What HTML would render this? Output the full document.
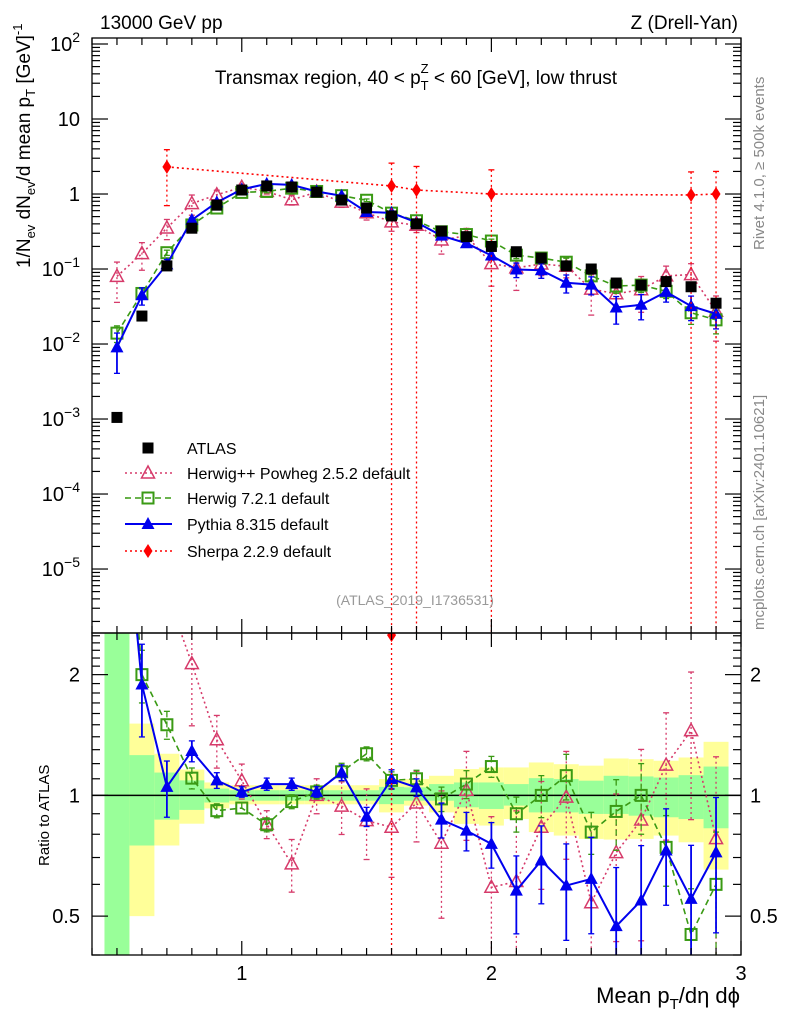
<!DOCTYPE html>
<html><head><meta charset="utf-8">
<style>
html,body{margin:0;background:#fff;overflow:hidden;width:786px;height:1024px;}
svg{display:block;overflow:hidden;}
svg text{font-family:"Liberation Sans",Arial,sans-serif;}
</style></head>
<body>
<svg id="chart" width="786" height="1024" viewBox="0 0 786 1024" xmlns="http://www.w3.org/2000/svg">
<defs>
<clipPath id="clipMain"><rect x="92" y="38" width="649" height="595"/></clipPath>
<clipPath id="clipRatio"><rect x="92" y="633" width="649" height="322"/></clipPath>
</defs>
<rect x="0" y="0" width="786" height="1024" fill="#fff"/>
<text x="100" y="29" font-size="19">13000 GeV pp</text>
<text x="738" y="29" font-size="19" text-anchor="end">Z (Drell-Yan)</text>
<g id="bands" clip-path="url(#clipRatio)"></g>
<g id="ratioMarks" clip-path="url(#clipRatio)"></g>
<g id="mainMarks" clip-path="url(#clipMain)"></g>
<g id="axes"></g>
<text x="416" y="84" font-size="19" text-anchor="middle">Transmax region, 40 &lt; p<tspan font-size="13" dy="6">T</tspan><tspan font-size="13" dx="-8" dy="-17">Z</tspan><tspan dy="11"> &lt; 60 [GeV], low thrust</tspan></text>
<text x="415" y="605" font-size="14" fill="#999" text-anchor="middle">(ATLAS_2019_I1736531)</text>
<text transform="translate(764,250) rotate(-90)" font-size="15" fill="#888">Rivet 4.1.0, ≥ 500k events</text>
<text transform="translate(764,630) rotate(-90)" font-size="15" fill="#888">mcplots.cern.ch [arXiv:2401.10621]</text>
<text transform="translate(30,268) rotate(-90)" font-size="19">1/N<tspan font-size="13" dy="5">ev</tspan><tspan dy="-5"> dN</tspan><tspan font-size="13" dy="5">ev</tspan><tspan dy="-5">/d mean p</tspan><tspan font-size="13" dy="5">T</tspan><tspan dy="-5"> [GeV]</tspan><tspan font-size="13" dy="-8">-1</tspan></text>
<text transform="translate(49,866) rotate(-90)" font-size="15">Ratio to ATLAS</text>
<text x="740" y="1003" font-size="22" text-anchor="end">Mean p<tspan font-size="15" dy="6">T</tspan><tspan dy="-6">/dη dϕ</tspan></text>
<g id="legend"></g>
</svg>
<script>
const xs = [0.5,0.6,0.7,0.8,0.9,1.0,1.1,1.2,1.3,1.4,1.5,1.6,1.7,1.8,1.9,2.0,2.1,2.2,2.3,2.4,2.5,2.6,2.7,2.8,2.9];
const atlas = [0.00105,0.0236,0.11,0.35,0.71,1.13,1.28,1.24,1.06,0.83,0.65,0.51,0.40,0.32,0.27,0.20,0.17,0.14,0.11,0.10,0.065,0.061,0.068,0.058,0.035];
const pythiaRatio = [8.6,1.89,1.05,1.29,1.09,1.02,1.067,1.067,1.02,1.14,0.885,1.098,1.047,0.87,0.817,0.757,0.579,0.688,0.596,0.619,0.472,0.547,0.729,0.552,0.721];
const pythiaErr = [0.55,0.26,0.16,0.06,0.045,0.03,0.035,0.035,0.03,0.045,0.055,0.055,0.05,0.1,0.11,0.13,0.22,0.22,0.27,0.27,0.4,0.37,0.27,0.36,0.37];
const herwig7Ratio = [13.3,2.0,1.5,1.104,0.916,0.93,0.845,0.965,1.02,1.145,1.27,1.09,1.10,0.98,1.067,1.18,0.90,1.0,1.12,0.81,0.912,1.0,0.742,0.45,0.60];
const herwig7Err = [0.25,0.15,0.08,0.06,0.04,0.03,0.04,0.04,0.04,0.05,0.04,0.05,0.05,0.07,0.08,0.06,0.1,0.12,0.13,0.12,0.2,0.2,0.2,0.3,0.35];
const herwigppRatio = [76,6.8,3.2,2.13,1.376,1.088,0.848,0.675,1.0,0.94,0.865,0.833,0.957,0.76,1.03,0.59,0.61,0.833,0.99,0.54,0.72,0.868,1.19,1.45,0.78];
const herwigppErr = [0.55,0.4,0.3,0.3,0.15,0.1,0.08,0.15,0.1,0.15,0.2,0.25,0.2,0.35,0.25,0.5,0.5,0.3,0.3,0.55,0.4,0.5,0.35,0.4,0.6];
const sherpaX = [0.7,1.6,1.7,2.0,2.8,2.9];
const sherpaVal = [2.3,1.28,1.13,1.0,0.97,1.0];
const sherpaErr = [1.6,1.3,1.2,1.1,1.0,1.0];
const yellowHi = [3.0,1.51,1.27,1.16,1.077,1.06,1.06,1.06,1.06,1.06,1.06,1.098,1.098,1.119,1.163,1.174,1.174,1.208,1.196,1.186,1.236,1.231,1.22,1.243,1.36];
const yellowLo = [0.3,0.50,0.75,0.85,0.928,0.95,0.95,0.95,0.95,0.95,0.95,0.907,0.943,0.907,0.849,0.841,0.873,0.81,0.794,0.779,0.776,0.779,0.794,0.764,0.653];
const greenHi = [3.0,1.26,1.14,1.09,1.04,1.03,1.03,1.03,1.03,1.03,1.03,1.05,1.047,1.067,1.077,1.077,1.067,1.104,1.098,1.088,1.119,1.115,1.108,1.123,1.18];
const greenLo = [0.3,0.75,0.87,0.92,0.96,0.97,0.97,0.97,0.97,0.97,0.97,0.951,0.97,0.97,0.934,0.925,0.943,0.907,0.907,0.899,0.899,0.89,0.882,0.873,0.828];
const mainTickVals = [100,10,1,0.1,0.01,0.001,0.0001,0.00001];
const ratioTickVals = [2,1,0.5];
const xTickVals = [1,2,3];

const NS="http://www.w3.org/2000/svg";
const X0=92,X1=741,XMIN=0.4,XMAX=3.0;
const MY0=38,MY1=633, MLOGTOP=2.08, MLOGBOT=-5.853;
const RY0=633,RY1=955, RLOGTOP=Math.log10(2.54), RLOGBOT=Math.log10(0.4);
function sx(v){return X0+(v-XMIN)/(XMAX-XMIN)*(X1-X0);}
function sy(v){v=Math.max(v,1e-9);return MY0+(MLOGTOP-Math.log10(v))/(MLOGTOP-MLOGBOT)*(MY1-MY0);}
function ry(v){v=Math.max(v,1e-3);return RY0+(RLOGTOP-Math.log10(v))/(RLOGTOP-RLOGBOT)*(RY1-RY0);}
function mk(tag,attrs,parent){const e=document.createElementNS(NS,tag);for(const k in attrs)e.setAttribute(k,attrs[k]);parent.appendChild(e);return e;}

const gB=document.getElementById('bands'),gR=document.getElementById('ratioMarks'),gM=document.getElementById('mainMarks'),gA=document.getElementById('axes'),gL=document.getElementById('legend');

xs.forEach((x,i)=>{
  const a=sx(x-0.05),b=sx(x+0.05);
  let r=mk('rect',{x:a,y:ry(yellowHi[i]),width:b-a,height:ry(yellowLo[i])-ry(yellowHi[i]),fill:'#ffff99'},gB);
  
  
  r=mk('rect',{x:a,y:ry(greenHi[i]),width:b-a,height:ry(greenLo[i])-ry(greenHi[i]),fill:'#99ff99'},gB);
  
  
});
let one=mk('line',{x1:X0,x2:X1,y1:ry(1),y2:ry(1),stroke:'#000','stroke-width':1.5},gB);



function marker(g,type,cx,cy,color,name){
  let e;
  if(type==='sq') e=mk('rect',{x:cx-5.5,y:cy-5.5,width:11,height:11,fill:'#000'},g);
  else if(type==='osq') e=mk('rect',{x:cx-5.5,y:cy-5.5,width:11,height:11,fill:'none',stroke:color,'stroke-width':2},g);
  else if(type==='tri') e=mk('polygon',{points:`${cx},${cy-7} ${cx-6.5},${cy+5} ${cx+6.5},${cy+5}`,fill:color},g);
  else if(type==='otri') e=mk('polygon',{points:`${cx},${cy-7} ${cx-6.5},${cy+5} ${cx+6.5},${cy+5}`,fill:'none',stroke:color,'stroke-width':1.5},g);
  else if(type==='dia') e=mk('polygon',{points:`${cx},${cy-7} ${cx-4.5},${cy} ${cx},${cy+7} ${cx+4.5},${cy}`,fill:color},g);
  
  
  return e;
}
function series(opts){
  const {name,xv,main,ratio,rel,color,dash,width,type}=opts;
  [[gM,main,sy,MY0,MY1],[gR,ratio,ry,RY0,RY1]].forEach(([g,vals,f,top,bot],pi)=>{
    const pts=xv.map((x,i)=>sx(x)+','+f(vals[i])).join(' ');
    let pl=mk('polyline',{points:pts,fill:'none',stroke:color,'stroke-width':width,'stroke-dasharray':dash},g);
    
    
    xv.forEach((x,i)=>{
      const v=vals[i],e=rel[i]*v;
      const cx=sx(x);
      const cy=f(v);
      if(cy<top-8||cy>bot+8) return;
      const lo=v-e>0?f(v-e):bot+5;
      let l=mk('line',{x1:cx,x2:cx,y1:f(v+e),y2:lo,stroke:color,'stroke-width':width===2?1.8:1.3,'stroke-dasharray':dash},g);
      
      
      [f(v+e),lo].forEach(yy=>{ if(yy<bot){let c=mk('line',{x1:cx-3,x2:cx+3,y1:yy,y2:yy,stroke:color,'stroke-width':1.3},g);
        
        }});
      marker(g,type,cx,cy,color,name+'-point');
    });
  });
}
const mainOf=r=>r.map((v,i)=>v*atlas[i]);
series({name:'herwigpp',xv:xs,main:mainOf(herwigppRatio),ratio:herwigppRatio,rel:herwigppErr,color:'#d63a6a',dash:'2,3',width:1.6,type:'otri'});
series({name:'herwig7',xv:xs,main:mainOf(herwig7Ratio),ratio:herwig7Ratio,rel:herwig7Err,color:'#3a9a14',dash:'6,4',width:1.6,type:'osq'});
series({name:'pythia',xv:xs,main:mainOf(pythiaRatio),ratio:pythiaRatio,rel:pythiaErr,color:'#0000ee',dash:'none',width:2,type:'tri'});
const sherpaRatio=sherpaX.map((x,i)=>sherpaVal[i]/atlas[xs.indexOf(x)]);
series({name:'sherpa',xv:sherpaX,main:sherpaVal,ratio:sherpaRatio,rel:sherpaErr.map((e,i)=>e/sherpaVal[i]),color:'#ff0000',dash:'2,3',width:1.6,type:'dia'});
xs.forEach((x,i)=>{marker(gM,'sq',sx(x),sy(atlas[i]),'#000','atlas-point');});

[[MY0,MY1],[RY0,RY1]].forEach(([a,b],k)=>{
  let r=mk('rect',{x:X0,y:a,width:X1-X0,height:b-a,fill:'none',stroke:'#000','stroke-width':1.3},gA);
  
  
});
function tick(x1,y1,x2,y2){let t=mk('line',{x1,y1,x2,y2,stroke:'#000','stroke-width':1.2},gA);}
for(let k=4;k<=30;k++){
  const v=k/10,x=sx(v),maj=(k%10===0),L=maj?14:7;
  [[MY0,1],[MY1,-1],[RY0,1],[RY1,-1]].forEach(([y,d])=>tick(x,y,x,y+d*L));
}
xTickVals.forEach(v=>{let t=mk('text',{x:sx(v),y:980,'font-size':20,'text-anchor':'middle'},gA);t.textContent=String(v);
  });
for(let d=-6;d<=2;d++){for(let m=1;m<10;m++){const v=m*Math.pow(10,d);const y=sy(v);if(y<MY0-0.5||y>MY1+0.5)continue;
  const L=m===1?16:8;tick(X0,y,X0+L,y);tick(X1,y,X1-L,y);}}
mainTickVals.forEach(v=>{const y=sy(v);const e=Math.round(Math.log10(v));
  let t=mk('text',{x:80,y:y+7,'font-size':20,'text-anchor':'end'},gA);
  
  if(e===0)t.textContent='1';else if(e===1)t.textContent='10';
  else{t.textContent='10';let s=mk('tspan',{dy:-9,'font-size':14},t);s.textContent=(e<0?'−':'')+Math.abs(e);}
});
const rmin=[0.4,0.6,0.7,0.8,0.9,1.1,1.2,1.3,1.4,1.5,1.6,1.7,1.8,1.9,2.1,2.2,2.3,2.4,2.5];
rmin.forEach(v=>{const y=ry(v);tick(X0,y,X0+8,y);tick(X1,y,X1-8,y);});
ratioTickVals.forEach(v=>{const y=ry(v);tick(X0,y,X0+16,y);tick(X1,y,X1-16,y);
  [[80,'end'],[750,'start']].forEach(([x,an])=>{let t=mk('text',{x,y:y+7,'font-size':20,'text-anchor':an},gA);t.textContent=String(v);
  });});

const legItems=[['ATLAS','sq','#000','none'],['Herwig++ Powheg 2.5.2 default','otri','#d63a6a','2,3'],['Herwig 7.2.1 default','osq','#3a9a14','6,4'],['Pythia 8.315 default','tri','#0000ee','none'],['Sherpa 2.2.9 default','dia','#ff0000','2,3']];
const legY=[448,473,498,524,551];
legItems.forEach((it,i)=>{
  const g=mk('g',{},gL);
  
  
  const y=legY[i];
  if(i>0){let l=mk('line',{x1:125,x2:172,y1:y,y2:y,stroke:it[2],'stroke-width':i===3?2:1.6,'stroke-dasharray':it[3]},g);
    }
  marker(g,it[1],148,y,it[2],'legend-marker');
  let t=mk('text',{x:187,y:y+6,'font-size':16},g);t.textContent=it[0];
  
});
</script>
</body></html>
